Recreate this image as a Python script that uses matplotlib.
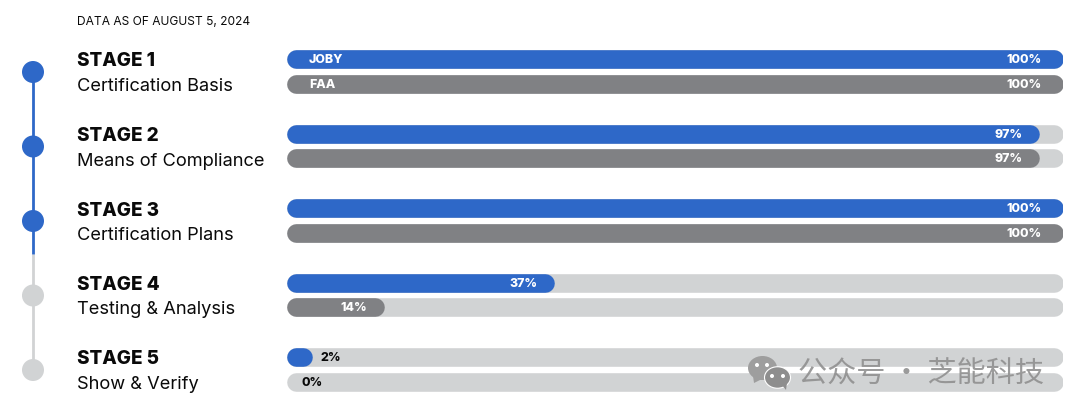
import matplotlib
matplotlib.use('Agg')
import matplotlib.pyplot as plt
from matplotlib.patches import Ellipse, Polygon

W, H = 1080, 418

stages = ['STAGE 1', 'STAGE 2', 'STAGE 3', 'STAGE 4', 'STAGE 5']
names = ['Certification Basis', 'Means of Compliance', 'Certification Plans',
         'Testing & Analysis', 'Show & Verify']
stage_done = [True, True, True, False, False]

# printed numbers
joby_labels = ['100%', '97%', '100%', '37%', '2%']
faa_labels = ['100%', '97%', '100%', '14%', '0%']
# filled length as measured, the source bars are not quite to scale
joby_fill = [100, 97, 100, 34.5, 3.2]
faa_fill = [100, 97, 100, 12.5, 0]

BLUE = '#2E68C8'
GRAY = '#808184'
LIGHT = '#D1D3D4'
INK = '#0A0A0A'
plt.rcParams['font.family'] = ['Inter', 'DejaVu Sans']

fig = plt.figure(figsize=(W / 100, H / 100), dpi=100, facecolor='white')

# bar axes, x runs 0-100
BAR_L, BAR_R = 287, 1063
bx = fig.add_axes([BAR_L / W, 0, (BAR_R - BAR_L) / W, 1])
bx.set_xlim(0, 100)
bx.set_ylim(H, 0)
bx.axis('off')
px = (BAR_R - BAR_L) / 100.0  # pixels per unit

# pixel axes for the timeline and text, on top so the watermark covers the bars
ax = fig.add_axes([0, 0, 1, 1], zorder=5)
ax.set_xlim(0, W)
ax.set_ylim(H, 0)
ax.axis('off')

BAR_H = 18.6


def pill(top, length, color, z=2):
    # thick line with round caps gives true half circle ends
    r = BAR_H / 2 / px
    yc = top + BAR_H / 2
    bx.plot([r, length - r], [yc, yc], color=color, lw=BAR_H * 0.72,
            solid_capstyle='round', zorder=z)


def bar_label(top, fill, label):
    yc = top + 10.4
    if fill > 10:
        off = 21.5 if fill == 100 else 17
        bx.text(fill - off / px, yc, label, ha='right', va='center',
                fontsize=8.9, fontweight='heavy', color='white', zorder=4)
    elif fill > 0:
        bx.text(fill + 9 / px, yc, label, ha='left', va='center',
                fontsize=8.9, fontweight='heavy', color=INK, zorder=4)
    else:
        bx.text(14 / px, yc, label, ha='left', va='center',
                fontsize=8.9, fontweight='heavy', color=INK, zorder=4)


ax.text(77, 25, 'DATA AS OF AUGUST 5, 2024', fontsize=8.65, color=INK,
        ha='left', va='baseline')

STEP = 74.5
CX = 33
# connector line
ax.plot([CX, CX], [72, 254], color=BLUE, lw=2.0, solid_capstyle='butt', zorder=2)
ax.plot([CX, CX], [254, 72 + 4 * STEP], color=LIGHT, lw=2.0, solid_capstyle='butt', zorder=1)

for i in range(len(stages)):
    top = 49.7 + i * STEP
    cy = 72 + i * STEP
    ax.add_patch(Ellipse((CX, cy), 22, 22, fc=BLUE if stage_done[i] else LIGHT,
                         ec='none', zorder=3))
    ax.text(77, 66.5 + i * STEP, stages[i], fontsize=13.6, fontweight='heavy',
            color=INK, ha='left', va='baseline')
    ax.text(77, 91 + i * STEP, names[i], fontsize=13.15, fontweight='normal', color=INK,
            ha='left', va='baseline')

    pill(top, 100, LIGHT, 1)
    pill(top + 24.7, 100, LIGHT, 1)
    if joby_fill[i] > 0:
        pill(top, joby_fill[i], BLUE)
    if faa_fill[i] > 0:
        pill(top + 24.7, faa_fill[i], GRAY)
    bar_label(top, joby_fill[i], joby_labels[i])
    bar_label(top + 24.7, faa_fill[i], faa_labels[i])

# series names inside the first pair
bx.text(22 / px, 60.2, 'JOBY', fontsize=8.9, fontweight='heavy', color='white',
        va='center', zorder=4)
bx.text(22 / px, 84.9, 'FAA', fontsize=8.9, fontweight='heavy', color='white',
        va='center', zorder=4)

# watermark
ax.add_patch(Ellipse((762.5, 368), 29, 24, fc='#9E9E9E', ec='none', zorder=6))
ax.add_patch(Polygon([[753, 376], [754, 383], [762, 379]], fc='#9E9E9E', ec='none', zorder=6))
ax.add_patch(Ellipse((777.5, 377.5), 26, 21.5, fc='#8E8E8E', ec='white', lw=.8, zorder=7))
ax.add_patch(Polygon([[782, 385], [786, 390], [787, 383]], fc='#8E8E8E', ec='none', zorder=7))
for ex, ey in [(757, 365), (767, 365), (772, 376), (783, 376)]:
    ax.add_patch(Ellipse((ex, ey), 4, 4, fc='white', ec='none', zorder=8))
ax.text(798, 374.5, '公众号 · 芝能科技', fontsize=21, color='#909090', alpha=.9,
        family=['Noto Sans CJK SC', 'DejaVu Sans'], ha='left', va='center', zorder=6)

fig.savefig('out.png', dpi=100, facecolor='white')
